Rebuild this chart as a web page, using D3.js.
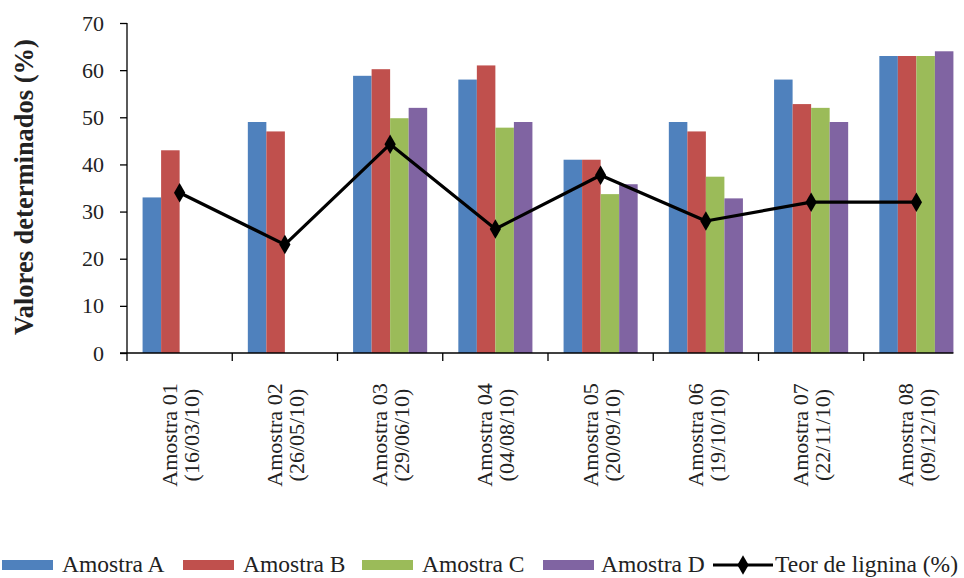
<!DOCTYPE html>
<html>
<head>
<meta charset="utf-8">
<script src="https://cdn.jsdelivr.net/npm/d3@7/dist/d3.min.js"></script>
<style>
  html, body { margin: 0; padding: 0; background: #fff; }
  svg text { font-family: "Liberation Serif", "Times New Roman", serif; fill: #222; }
</style>
</head>
<body>
<svg id="chart" width="964" height="578"></svg>
<script>
// Sample labels (name + collection date)
const categories = ["Amostra 01", "Amostra 02", "Amostra 03", "Amostra 04",
                    "Amostra 05", "Amostra 06", "Amostra 07", "Amostra 08"];
const dates = ["(16/03/10)", "(26/05/10)", "(29/06/10)", "(04/08/10)",
               "(20/09/10)", "(19/10/10)", "(22/11/10)", "(09/12/10)"];

// Determined values (%) per sub-sample; null = not determined
const amostraA = [33, 49, 58.8, 58, 41, 49, 58, 63];
const amostraB = [43, 47, 60.2, 61, 41, 47, 52.8, 63];
const amostraC = [null, null, 49.8, 47.8, 33.7, 37.4, 52, 63];
const amostraD = [null, null, 52, 49, 35.8, 32.8, 49, 64];

// Lignin content (%)
const teorLignina = [34, 23, 44.3, 26.3, 37.7, 28, 32, 32];

const seriesNames = ["Amostra A", "Amostra B", "Amostra C", "Amostra D"];
const seriesValues = [amostraA, amostraB, amostraC, amostraD];
const seriesColors = ["#4F81BD", "#C0504D", "#9BBB59", "#8064A2"];
const lineName = "Teor de lignina (%)";
const yTicks = [0, 10, 20, 30, 40, 50, 60, 70];

const svg = d3.select("#chart");

const plot = { left: 127, right: 969, top: 23, bottom: 353 };

const x = d3.scaleBand()
  .domain(categories)
  .range([plot.left, plot.right])
  .paddingInner(0).paddingOuter(0);

const groupPad = x.bandwidth() * 0.148;
const xs = d3.scaleBand()
  .domain(seriesNames)
  .range([groupPad, x.bandwidth() - groupPad])
  .padding(0);

const y = d3.scaleLinear().domain([0, 70]).range([plot.bottom, plot.top]);

// Bars
const barRows = [];
seriesNames.forEach((s, si) => {
  categories.forEach((c, ci) => {
    const v = seriesValues[si][ci];
    if (v != null) barRows.push({ s, c, v, color: seriesColors[si] });
  });
});

svg.append("g")
  .selectAll("rect")
  .data(barRows)
  .join("rect")
  .attr("x", d => x(d.c) + xs(d.s))
  .attr("y", d => y(d.v))
  .attr("width", xs.bandwidth())
  .attr("height", d => y(0) - y(d.v))
  .attr("fill", d => d.color);

// Y axis
const yAxis = svg.append("g")
  .attr("transform", `translate(${plot.left},0)`)
  .call(d3.axisLeft(y).tickValues(yTicks).tickSize(7).tickPadding(16));
yAxis.select(".domain").attr("stroke", "#000").attr("stroke-width", 1.3)
  .attr("d", `M0,${plot.top}V${plot.bottom}`);
yAxis.selectAll(".tick line").attr("stroke", "#000").attr("stroke-width", 1.3);
yAxis.selectAll(".tick text")
  .attr("font-size", 22)
  .attr("font-family", "Liberation Serif")
  .attr("fill", "#222");

// X axis: line plus tick marks at category boundaries
const xAxisG = svg.append("g");
const lastBarEnd = x(categories[categories.length - 1]) + xs(seriesNames[3]) + xs.bandwidth();
xAxisG.append("line")
  .attr("x1", plot.left - 7).attr("x2", lastBarEnd)
  .attr("y1", plot.bottom).attr("y2", plot.bottom)
  .attr("stroke", "#000").attr("stroke-width", 1.3);
xAxisG.selectAll("line.tick")
  .data(categories)
  .join("line")
  .attr("class", "tick")
  .attr("x1", d => x(d)).attr("x2", d => x(d))
  .attr("y1", plot.bottom).attr("y2", plot.bottom + 8)
  .attr("stroke", "#000").attr("stroke-width", 1.3);

// Rotated two-line category labels
const lab = xAxisG.selectAll("g.lab")
  .data(categories)
  .join("g")
  .attr("class", "lab")
  .attr("transform", d => `translate(${x(d) + x.bandwidth() / 2 + 1},435) rotate(-90)`);
lab.append("text")
  .attr("text-anchor", "middle")
  .attr("y", -4)
  .attr("font-size", 22)
  .text(d => d);
lab.append("text")
  .attr("text-anchor", "middle")
  .attr("y", 18)
  .attr("font-size", 22)
  .text((d, i) => dates[i]);

// Y title
svg.append("text")
  .attr("transform", `translate(33,187) rotate(-90)`)
  .attr("text-anchor", "middle")
  .attr("font-size", 26.5)
  .attr("font-weight", "bold")
  .text("Valores determinados (%)");

// Lignin line with diamond markers
const cx = c => x(c) + x.bandwidth() / 2;
const lineData = categories.map((c, i) => ({ c, v: teorLignina[i] }));
svg.append("path")
  .datum(lineData)
  .attr("fill", "none")
  .attr("stroke", "#000")
  .attr("stroke-width", 3.2)
  .attr("stroke-linejoin", "round")
  .attr("d", d3.line().x(d => cx(d.c)).y(d => y(d.v)));

const diamond = d3.symbol().type(d3.symbolDiamond).size(110);
svg.append("g")
  .selectAll("path")
  .data(lineData)
  .join("path")
  .attr("transform", d => `translate(${cx(d.c)},${y(d.v)})`)
  .attr("d", diamond)
  .attr("fill", "#000");

// Legend
const legendY = 565;
const legendItems = [
  { name: seriesNames[0], color: seriesColors[0], sx: 2, tx: 62 },
  { name: seriesNames[1], color: seriesColors[1], sx: 183, tx: 243 },
  { name: seriesNames[2], color: seriesColors[2], sx: 362, tx: 422 },
  { name: seriesNames[3], color: seriesColors[3], sx: 543, tx: 601 }
];
const lg = svg.append("g");
legendItems.forEach(it => {
  lg.append("rect")
    .attr("x", it.sx).attr("y", legendY - 5)
    .attr("width", 51).attr("height", 10)
    .attr("fill", it.color);
  lg.append("text")
    .attr("x", it.tx).attr("y", legendY + 7)
    .attr("font-size", 23.5)
    .text(it.name);
});
lg.append("line")
  .attr("x1", 713).attr("x2", 773)
  .attr("y1", legendY).attr("y2", legendY)
  .attr("stroke", "#000").attr("stroke-width", 3);
lg.append("path")
  .attr("transform", `translate(743,${legendY})`)
  .attr("d", diamond)
  .attr("fill", "#000");
lg.append("text")
  .attr("x", 775).attr("y", legendY + 7)
  .attr("font-size", 23.5)
  .text(lineName);
</script>
</body>
</html>
